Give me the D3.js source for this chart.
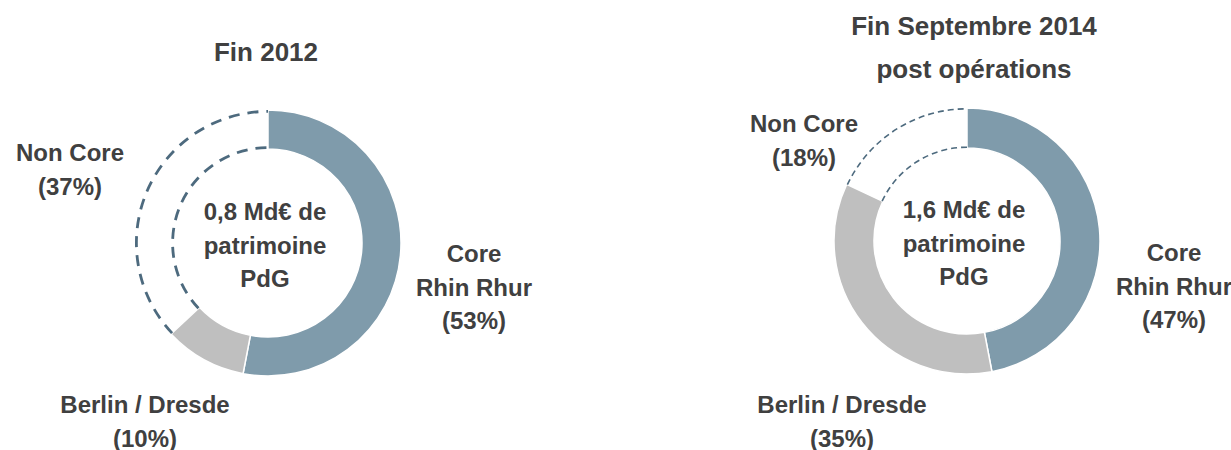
<!DOCTYPE html>
<html>
<head>
<meta charset="utf-8">
<script src="https://cdn.jsdelivr.net/npm/d3@7"></script>
<style>
  html, body { margin: 0; padding: 0; background: #ffffff; }
  svg { display: block; }
  text { font-family: "Liberation Sans", Arial, sans-serif; font-weight: bold; fill: #404040; }
</style>
</head>
<body>
<svg id="chart" width="1231" height="450"></svg>
<script>
// ---- data ----
const categories = ["Core Rhin Rhur", "Berlin / Dresde", "Non Core"];
const values2012 = [53, 10, 37];
const values2014 = [47, 35, 18];
const titles2012 = ["Fin 2012"];
const titles2014 = ["Fin Septembre 2014", "post opérations"];
const centerText2012 = ["0,8 Md€ de", "patrimoine", "PdG"];
const centerText2014 = ["1,6 Md€ de", "patrimoine", "PdG"];
const labels2012 = [["Core", "Rhin Rhur", "(53%)"], ["Berlin / Dresde", "(10%)"], ["Non Core", "(37%)"]];
const labels2014 = [["Core", "Rhin Rhur", "(47%)"], ["Berlin / Dresde", "(35%)"], ["Non Core", "(18%)"]];

const svg = d3.select("#chart");
const fills = d3.scaleOrdinal().domain(categories).range(["#7f9bab", "#bfbfbf", "none"]);
const dashColor = "#4d6a7e";

function donut(cfg) {
  const g = svg.append("g").attr("transform", `translate(${cfg.cx},${cfg.cy})`);
  const data = categories.map((c, i) => ({ cat: c, value: cfg.values[i], label: cfg.labels[i] }));
  const pie = d3.pie().sort(null).value(d => d.value).startAngle(0).endAngle(2 * Math.PI);
  const arcs = pie(data);
  const arc = d3.arc().innerRadius(cfg.r0).outerRadius(cfg.r1);

  g.selectAll("path.slice")
    .data(arcs.filter(a => a.data.cat !== "Non Core"))
    .join("path")
    .attr("class", "slice")
    .attr("d", arc)
    .attr("fill", d => fills(d.data.cat))
    .attr("stroke", "#ffffff")
    .attr("stroke-width", 1.5);

  // dashed outline for Non Core
  const nc = arcs.find(a => a.data.cat === "Non Core");
  [cfg.r1 - cfg.dashW / 2, cfg.r0 + cfg.dashW / 2].forEach(r => {
    const p = d3.path();
    p.arc(0, 0, r, nc.startAngle - Math.PI / 2, nc.endAngle - Math.PI / 2);
    g.append("path")
      .attr("d", p.toString())
      .attr("fill", "none")
      .attr("stroke", dashColor)
      .attr("stroke-width", cfg.dashW)
      .attr("stroke-dasharray", cfg.dash);
  });

  // center text
  g.append("text").attr("text-anchor", "middle").attr("font-size", 24)
    .selectAll("tspan").data(cfg.center).join("tspan")
    .attr("x", -3).attr("y", (d, i) => -23 + i * 33.5).text(d => d);

  // titles
  svg.append("text").attr("text-anchor", "middle").attr("font-size", 26)
    .selectAll("tspan").data(cfg.titles).join("tspan")
    .attr("x", cfg.titleX).attr("y", (d, i) => cfg.titleY + i * 43).text(d => d);

  // labels
  data.forEach((d, i) => {
    const pos = cfg.labelPos[i];
    svg.append("text").attr("text-anchor", "middle").attr("font-size", 24)
      .selectAll("tspan").data(d.label).join("tspan")
      .attr("x", pos[0]).attr("y", (t, j) => pos[1] + j * 33.5).text(t => t);
  });
}

donut({
  cx: 268, cy: 243, r0: 94, r1: 133, values: values2012, labels: labels2012,
  center: centerText2012, titles: titles2012, titleX: 266, titleY: 61,
  dashW: 2.8, dash: "11,8",
  labelPos: [[474, 262], [145, 413], [70, 161]]
});
donut({
  cx: 967, cy: 241, r0: 93, r1: 133, values: values2014, labels: labels2014,
  center: centerText2014, titles: titles2014, titleX: 974, titleY: 35,
  dashW: 1.6, dash: "6,4",
  labelPos: [[1174, 261], [842, 413], [804, 132]]
});
</script>
</body>
</html>
